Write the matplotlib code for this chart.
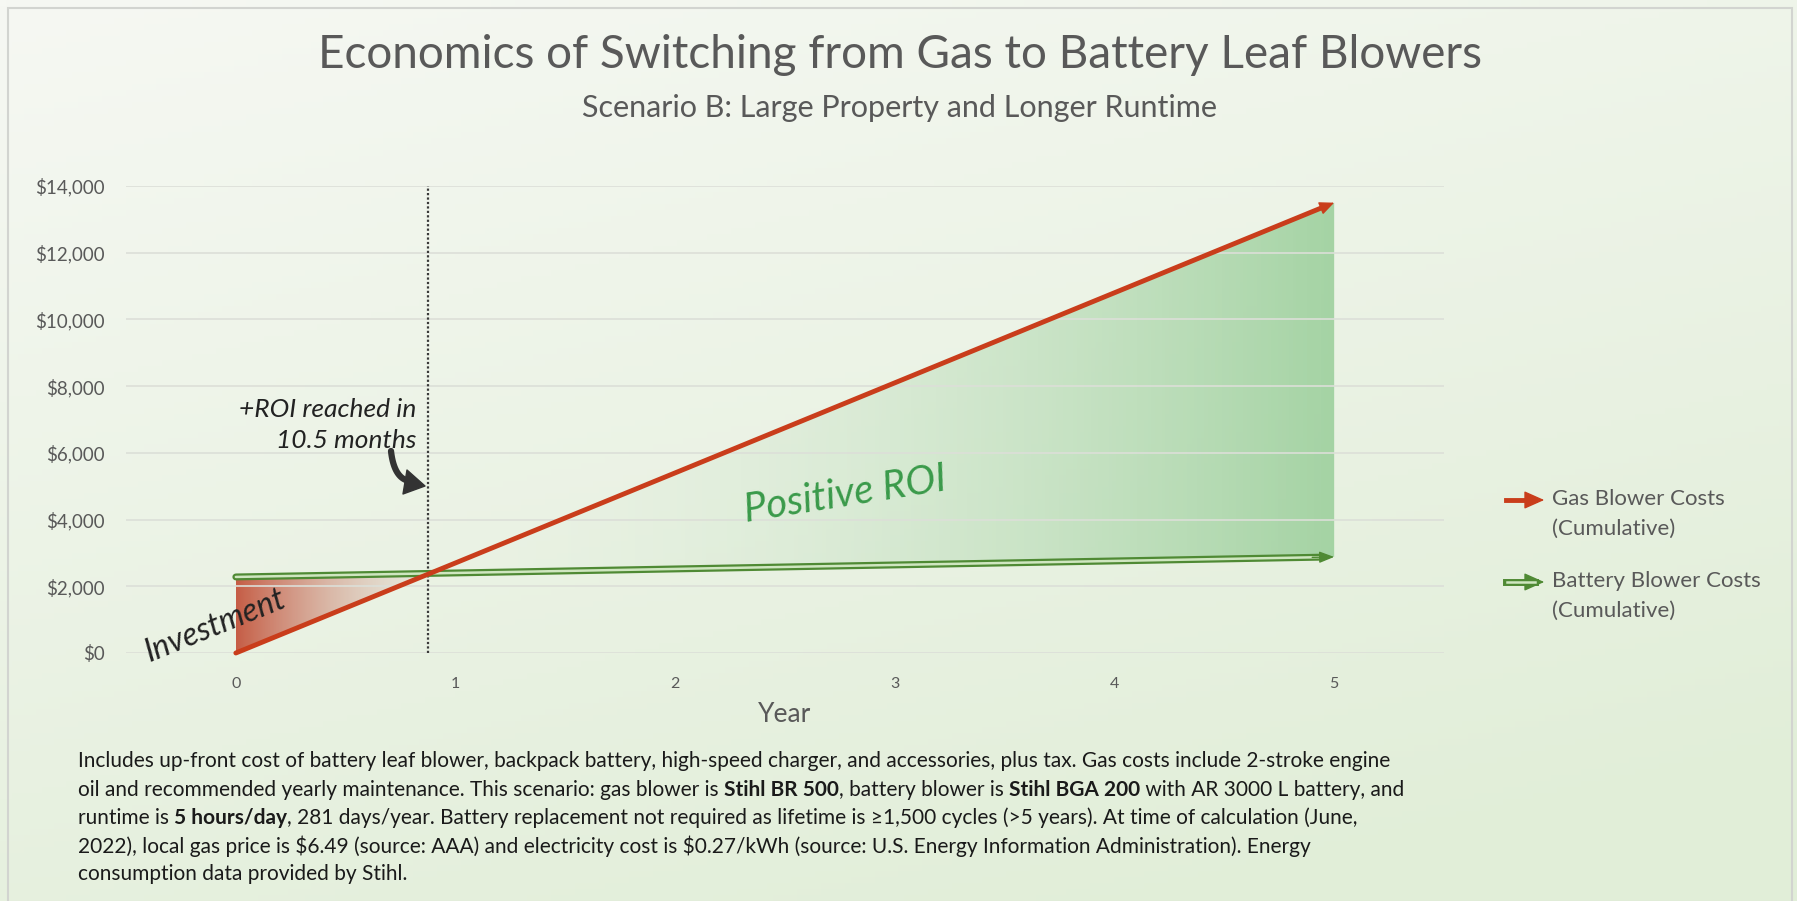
import numpy as np
import matplotlib
matplotlib.use("Agg")
import matplotlib.pyplot as plt
from matplotlib.patches import FancyArrowPatch, Rectangle, Polygon
from matplotlib.ticker import FuncFormatter
from matplotlib.colors import to_rgb

# data
years = [0, 1, 2, 3, 4, 5]
gas_costs = [0, 2700, 5400, 8100, 10800, 13500]
battery_costs = [2280, 2400, 2520, 2640, 2760, 2880]
roi_year = 0.875  # 10.5 months
y_ticks = [0, 2000, 4000, 6000, 8000, 10000, 12000, 14000]

title = "Economics of Switching from Gas to Battery Leaf Blowers"
subtitle = "Scenario B: Large Property and Longer Runtime"
legend_labels = ["Gas Blower Costs\n(Cumulative)", "Battery Blower Costs\n(Cumulative)"]

# footnote lines, (text, bold) pieces
footnote = [
    [("Includes up-front cost of battery leaf blower, backpack battery, high-speed charger, and accessories, plus tax. Gas costs include 2-stroke engine", False)],
    [("oil and recommended yearly maintenance. This scenario: gas blower is ", False), ("Stihl BR 500", True),
     (", battery blower is ", False), ("Stihl BGA 200", True), (" with AR 3000 L battery, and", False)],
    [("runtime is ", False), ("5 hours/day", True),
     (", 281 days/year. Battery replacement not required as lifetime is \u22651,500 cycles (>5 years). At time of calculation (June,", False)],
    [("2022), local gas price is \\$6.49 (source: AAA) and electricity cost is \\$0.27/kWh (source: U.S. Energy Information Administration). Energy", False)],
    [("consumption data provided by Stihl.", False)],
]

FONT = "Lato"
GREY = "#595959"
GAS = "#c93d1b"
BAT = "#4f8a34"
FOOT_SIZE = 15

W, H = 1797, 901
plt.rcParams['font.family'] = [FONT, 'DejaVu Sans']
fig = plt.figure(figsize=(W / 100, H / 100), dpi=100)


def px(x, y):
    # pixel position (from top left) -> figure fraction
    return x / W, 1 - y / H


# background gradient and frame
bg = fig.add_axes([0, 0, 1, 1], zorder=-10)
gx, gy = np.meshgrid(np.linspace(0, 1, 300), np.linspace(0, 1, 150))
t = np.clip(0.35 * gx + 0.75 * gy, 0, 1)[..., None]
c0 = np.array(to_rgb("#f6f8f3"))
c1 = np.array(to_rgb("#e1eed8"))
bg.imshow(c0 + (c1 - c0) * t, extent=[0, 1, 0, 1], aspect='auto', origin='upper')
bg.add_patch(Rectangle(px(8, 902), (1792 - 8) / W, (902 - 8) / H, transform=bg.transAxes,
                       fill=False, edgecolor="#d2d4d0", lw=1.5))
bg.set_xlim(0, 1)
bg.set_ylim(0, 1)
bg.axis('off')

# main axes
l, b = px(126, 653)
r, tp = px(1444, 186)
ax = fig.add_axes([l, b, r - l, tp - b])
ax.patch.set_alpha(0)

xs_gas = np.array(years, float)
g = np.array(gas_costs, float)
bt = np.array(battery_costs, float)
# where the two lines cross
x_cross = (bt[0] - g[0]) / ((g[1] - g[0]) - (bt[1] - bt[0]))


def gradient_fill(x0, x1, col0, col1, a0, a1):
    xx = np.linspace(x0, x1, 200)
    top = np.maximum(np.interp(xx, xs_gas, g), np.interp(xx, xs_gas, bt))
    bot = np.minimum(np.interp(xx, xs_gas, g), np.interp(xx, xs_gas, bt))
    poly = ax.fill_between(xx, bot, top, facecolor='none', edgecolor='none')
    n = 256
    f = np.linspace(0, 1, n)
    ca, cb = np.array(to_rgb(col0)), np.array(to_rgb(col1))
    img = np.zeros((1, n, 4))
    img[0, :, :3] = ca + (cb - ca) * f[:, None]
    img[0, :, 3] = a0 + (a1 - a0) * f
    im = ax.imshow(img, extent=[x0, x1, 0, 14000], aspect='auto', origin='lower', zorder=1)
    im.set_clip_path(poly.get_paths()[0], transform=ax.transData)


gradient_fill(0, x_cross, "#c4553d", "#ddd6cc", 0.95, 0.25)
gradient_fill(x_cross, 5, "#e6f0e2", "#9dd09d", 0.0, 0.9)

# gridlines over fill, faint
ax.set_yticks(y_ticks)
ax.yaxis.grid(True, color="#dcdfd8", lw=1.2, zorder=1.5)
ax.set_xticks(years)
ax.set_xlim(-0.5, 5.5)
ax.set_ylim(0, 14000)
ax.yaxis.set_major_formatter(FuncFormatter(lambda v, p: "\\$" + f"{v:,.0f}"))
for s in ax.spines.values():
    s.set_visible(False)
ax.tick_params(length=0)
ax.tick_params(axis='y', labelsize=13.5, labelcolor=GREY, pad=15)
ax.tick_params(axis='x', labelsize=11.5, labelcolor=GREY, pad=17)

# roi line
ax.plot([roi_year, roi_year], [0, 14000], color="#3a3a3a", lw=1.6, ls=(0, (1, 1)), zorder=2)

# battery line (outlined look)
bx = years[:-1] + [4.93]
by = list(bt[:-1]) + [bt[-1] - 0.07 * (bt[-1] - bt[-2])]
ax.plot(bx, by, color=BAT, lw=5, solid_capstyle='round', zorder=3, clip_on=False)
ax.plot(bx, by, color="#cfe6c0", lw=1.8, solid_capstyle='round', zorder=3.1, clip_on=False)
ax.annotate('', xy=(years[-1], bt[-1]), xytext=(4.9, bt[-1] - 0.1 * (bt[-1] - bt[-2])),
            arrowprops=dict(arrowstyle='-|>,head_length=0.9,head_width=0.35', color=BAT, lw=1,
                            shrinkA=0, shrinkB=0), zorder=3.2)

# gas line
ax.plot(years[:-1] + [4.95], list(g[:-1]) + [g[-1] - 0.05 * (g[-1] - g[-2])],
        color=GAS, lw=3.5, solid_capstyle='round', zorder=4, clip_on=False)
ax.annotate('', xy=(years[-1], g[-1]), xytext=(4.9, g[-1] - 0.1 * (g[-1] - g[-2])),
            arrowprops=dict(arrowstyle='-|>,head_length=0.9,head_width=0.4', color=GAS, lw=1,
                            shrinkA=0, shrinkB=0), zorder=4.1)

# titles
fig.text(*px(900, 55), title, ha='center', va='center', fontsize=33, color=GREY)
fig.text(*px(900, 108), subtitle, ha='center', va='center', fontsize=22, color=GREY)
fig.text(*px(785, 714), "Year", ha='center', va='center', fontsize=19, color=GREY)

# annotations
fig.text(*px(416, 410), "+ROI reached in", ha='right', va='center', fontsize=19, color="#222222",
         style='italic')
fig.text(*px(416, 441), "10.5 months", ha='right', va='center', fontsize=19, color="#222222",
         style='italic')
# hand-drawn style curved arrow: bezier body + triangle head
s = np.linspace(0, 1, 40)[:, None]
p0, p1, p2 = np.array([391, 451]), np.array([394, 478]), np.array([409, 481])
pts = (1 - s) ** 2 * p0 + 2 * (1 - s) * s * p1 + s ** 2 * p2
pts_f = np.array([px(*q) for q in pts])
fig.lines.append(plt.Line2D(pts_f[:, 0], pts_f[:, 1], color="#333333", lw=4.5,
                            solid_capstyle='round', transform=fig.transFigure))
fig.patches.append(Polygon([px(425, 486), px(407, 470), px(403, 494)], closed=True,
                           transform=fig.transFigure, facecolor="#333333", edgecolor="#333333",
                           lw=1, joinstyle='round'))
fig.text(*px(845, 495), "Positive ROI", ha='center', va='center', fontsize=29, color="#3a9a4a",
         rotation=9, style='italic')
fig.text(*px(215, 626), "Investment", ha='center', va='center', fontsize=23, color="#222222",
         rotation=22, style='italic')

# legend
for yy, col, lab, outline in [(500, GAS, legend_labels[0], False), (582, BAT, legend_labels[1], True)]:
    if outline:
        fig.lines.append(plt.Line2D([1506 / W, 1535 / W], [1 - yy / H] * 2, color=col, lw=5,
                                    transform=fig.transFigure))
        fig.lines.append(plt.Line2D([1507 / W, 1535 / W], [1 - yy / H] * 2, color="#cfe6c0", lw=1.8,
                                    transform=fig.transFigure))
    else:
        fig.lines.append(plt.Line2D([1506 / W, 1535 / W], [1 - yy / H] * 2, color=col, lw=3.5,
                                    transform=fig.transFigure))
    fig.patches.append(FancyArrowPatch(px(1530, yy), px(1547, yy), transform=fig.transFigure,
                                       arrowstyle='-|>,head_length=0.9,head_width=0.4',
                                       mutation_scale=14, lw=1, color=col))
    fig.text(*px(1552, yy - 1), lab.split("\n")[0], ha='left', va='center', fontsize=16, color=GREY)
    fig.text(*px(1552, yy + 29), lab.split("\n")[1], ha='left', va='center', fontsize=16, color=GREY)

# footnote with bold pieces
fig.canvas.draw()
renderer = fig.canvas.get_renderer()


def text_width(s, weight):
    a = fig.text(0, 0, s + "|", fontsize=FOOT_SIZE, fontweight=weight)
    bar = fig.text(0, 0, "|", fontsize=FOOT_SIZE, fontweight=weight)
    w = a.get_window_extent(renderer).width - bar.get_window_extent(renderer).width
    a.remove()
    bar.remove()
    return w


line_y = [761, 790, 818, 846, 874]
for pieces, yy in zip(footnote, line_y):
    x = 78
    for s, bold in pieces:
        weight = 'bold' if bold else 'normal'
        fig.text(*px(x, yy), s, ha='left', va='center', fontsize=FOOT_SIZE, color="#1a1a1a",
                 fontweight=weight)
        x += text_width(s, weight)

fig.savefig("out.png", dpi=100)
